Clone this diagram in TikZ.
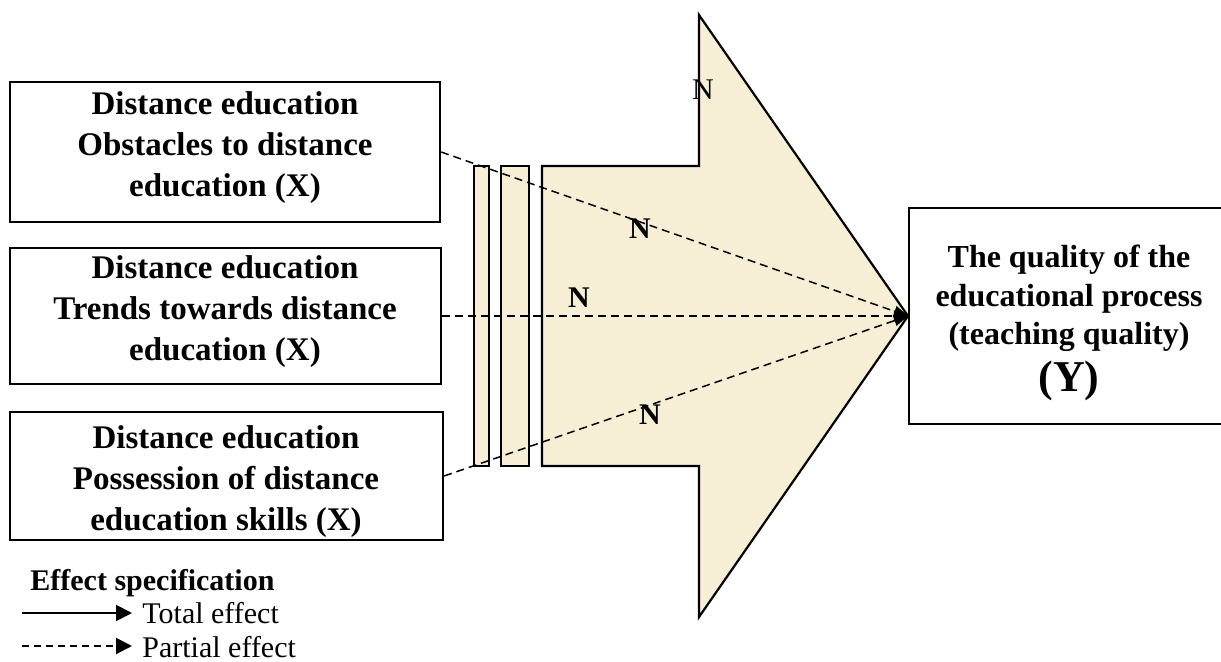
\documentclass[tikz,border=0pt]{standalone}
\usepackage{fontspec}
\setmainfont{Liberation Serif}
\usetikzlibrary{arrows.meta}
\definecolor{arrowfill}{RGB}{246,239,213}

\begin{document}
\begin{tikzpicture}[x=0.5pt,y=-0.5pt,
  box/.style={draw, line width=1.1pt, inner sep=0pt},
  boxtext/.style={align=center, inner sep=0pt, font=\bfseries\fontsize{16.5}{20.5}\selectfont},
  bigarrow/.style={draw, line width=1.1pt, fill=arrowfill, line join=miter},
  partial/.style={dashed, dash pattern=on 4pt off 2.5pt, line width=0.75pt,
    -{Triangle[length=7pt,width=5.5pt]}},
  total/.style={line width=1pt, shorten >=5pt, -{Triangle[length=8pt,width=8pt]}},
  nlabel/.style={inner sep=0pt, font=\bfseries\fontsize{15}{17}\selectfont},
  legend/.style={anchor=base west, inner sep=0pt, font=\fontsize{15}{17}\selectfont}]

\useasboundingbox (0,0) rectangle (1221,662);

% broad arrow with its two leading bars
\draw[bigarrow] (542,166) -- (699,166) -- (699,15) -- (908,316) -- (699,617)
  -- (699,466) -- (542,466) -- cycle;
\draw[bigarrow] (474,166) rectangle (489,466);
\draw[bigarrow] (501,166) rectangle (529,466);

% independent variables
\node[box, minimum width=215pt, minimum height=70pt] (x1) at (225,152) {};
\node[box, minimum width=215.5pt, minimum height=68pt] (x2) at (225.5,316) {};
\node[box, minimum width=216.5pt, minimum height=64pt] (x3) at (226.5,476) {};
\node[boxtext] (t1) at (225,148) {Distance education\\Obstacles to distance\\education (X)};
\node[boxtext] (t2) at (225,312) {Distance education\\Trends towards distance\\education (X)};
\node[boxtext] (t3) at (226,482) {Distance education\\Possession of distance\\education skills (X)};

% dependent variable
\node[box, minimum width=160pt, minimum height=108pt] (y) at (1069,316) {};
\node[align=center, inner sep=0pt, font=\bfseries\fontsize{16}{19.3}\selectfont]
  (ty) at (1069,323) {The quality of the\\educational process\\(teaching quality)\\[4pt]{\fontsize{22}{23}\selectfont (Y)}};

% partial effects
\draw[partial] (x1.east) -- (y.west);
\draw[partial] (x2.east) -- (y.west);
\draw[partial] (x3.east) -- (y.west);

\node[inner sep=0pt, font=\fontsize{15}{17}\selectfont] (n0) at (703,90) {N};
\node[nlabel] (n1) at (640,229) {N};
\node[nlabel] (n2) at (579,298) {N};
\node[nlabel] (n3) at (650,415) {N};

% legend
\node[anchor=base west, inner sep=0pt, font=\bfseries\fontsize{15}{17}\selectfont] (spec) at (30,590) {Effect specification};
\node[legend] (tot) at (142,623) {Total effect};
\node[legend] (par) at (142,657) {Partial effect};
\coordinate (ts) at (22,613);
\coordinate (ps) at (22,646);
\draw[total] (ts) -- (ts -| tot.west);
\draw[total, dashed, dash pattern=on 3.5pt off 2.5pt] (ps) -- (ps -| par.west);
\end{tikzpicture}
\end{document}
